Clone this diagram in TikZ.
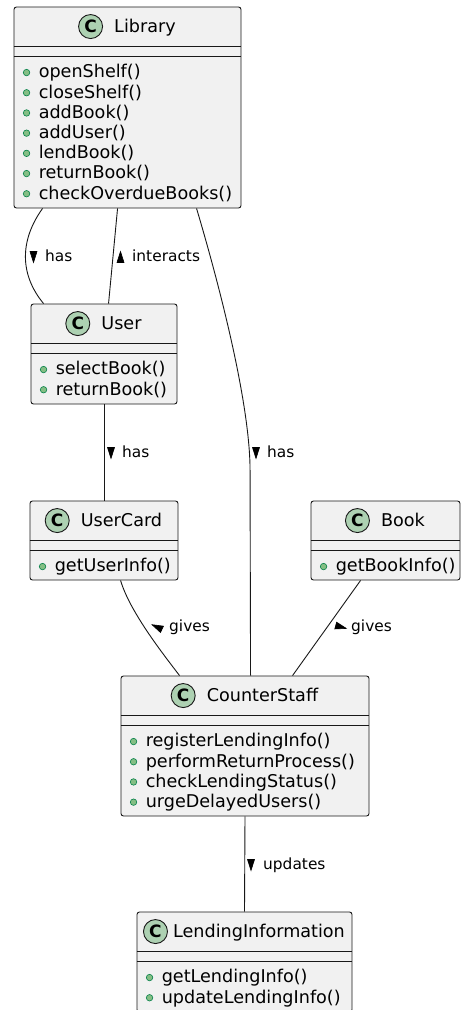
\documentclass[tikz,border=0pt]{standalone}
\usepackage{fontspec}
\setmainfont{DejaVu Sans}
\usepackage{tikz}
\usetikzlibrary{shapes.geometric, positioning, calc}
\definecolor{classfill}{HTML}{F1F1F1}
\definecolor{classline}{HTML}{181818}
\definecolor{iconfill}{HTML}{ADD1B2}
\definecolor{dotfill}{HTML}{84BE84}
\definecolor{dotline}{HTML}{038048}
\tikzset{classbox/.style={rectangle,draw=classline,fill=classfill,rounded corners=2.5pt,line width=0.9pt,inner sep=0pt},
         classtitle/.style={inner sep=0pt,font=\fontsize{17.6}{20}\selectfont,text height=12.8pt,text depth=0pt},
         classicon/.style={circle,draw=classline,fill=iconfill,line width=0.9pt,minimum size=24pt,inner sep=0pt,font=\fontsize{17}{17}\selectfont\bfseries},
         classrule/.style={draw=classline,line width=0.9pt},
         member/.style={anchor=west,inner sep=0pt,font=\fontsize{17.6}{20}\selectfont,text height=12.8pt,text depth=0pt},
         memberdot/.style={circle,draw=dotline,fill=dotfill,line width=0.6pt,minimum size=6.5pt,inner sep=0pt},
         link/.style={draw=classline,line width=0.9pt},
         linklabel/.style={anchor=west,inner sep=0pt,font=\fontsize{15.4}{18}\selectfont,text height=11.2pt,text depth=0pt},
         labeltip/.style={fill=black,draw=black,line width=0.6pt,line join=miter}}
% one class box: [gap] name, centre, width, height, title, members
\newcommand{\umlclass}[7][11]{%
  \node (#2) [classbox, minimum width=#4, minimum height=#5] at (#3) {};
  \node (#2-title) [classtitle] at ($(#2.north)+({(24+#1)/2},20)$) {#6};
  \node (#2-icon) [classicon, left=#1pt of #2-title] {C};
  \draw[classrule] ($(#2.north west)+(0,40)$) -- ($(#2.north east)+(0,40)$);
  \draw[classrule] ($(#2.north west)+(0,50)$) -- ($(#2.north east)+(0,50)$);
  \foreach \m [count=\i] in {#7} {
    \node (#2-dot\i) [memberdot] at ($(#2.north west)+(13,{66+20.2*(\i-1)})$) {};
    \node (#2-m\i) [member] at ($(#2.north west)+(25,{65+20.2*(\i-1)})$) {\m};
  }}

\begin{document}
\begin{tikzpicture}[x=1pt,y=-1pt]
    \useasboundingbox (0,0) rectangle (461,1010);
    \umlclass{library}{127.5,107.5}{227pt}{201pt}{Library}{openShelf(),closeShelf(),addBook(),addUser(),lendBook(),returnBook(),checkOverdueBooks()}
    \umlclass{user}{104,354}{146pt}{100pt}{User}{selectBook(),returnBook()}
    \umlclass{usercard}{104,540.5}{148pt}{79pt}{UserCard}{getUserInfo()}
    \umlclass{book}{385.5,540.5}{149pt}{79pt}{Book}{getBookInfo()}
    \umlclass{counterstaff}{245,746}{248pt}{140pt}{CounterStaff}{registerLendingInfo(),performReturnProcess(),checkLendingStatus(),urgeDelayedUsers()}
    \umlclass[5]{lendinginfo}{244.5,962}{215pt}{100pt}{LendingInformation}{getLendingInfo(),updateLendingInfo()}
    % associations
    \draw[link] ($(library.south west)+(29,0)$) .. controls +(-23,32) and +(-24,-29) .. ($(user.north west)+(13,0)$);
    \draw[link] ($(library.south west)+(104,0)$) -- ($(user.north west)+(78,0)$);
    \draw[link] ($(library.south west)+(183,0)$) .. controls +(20,67) and +(0,-70) .. ++(53.5,262) -- ($(counterstaff.north west)+(130,0)$);
    \draw[link] (user.south) -- (usercard.north);
    \draw[link] ($(usercard.south west)+(91,0)$) .. controls +(9,30) and +(-20,-26) .. ($(counterstaff.north west)+(59,0)$);
    \draw[link] ($(book.south west)+(50,0)$) -- ($(counterstaff.north west)+(172,0)$);
    \draw[link] (counterstaff.south) -- (lendinginfo.north);
    % labels with their direction tips
    \coordinate (has1-tip) at (33.5,257);
    \filldraw[labeltip, shift={(has1-tip)}, rotate=-90] (5.5,0) -- (-5.5,3.5) -- (-5.5,-3.5) -- cycle;
    \node (has1) [linklabel] at (45,256) {has};
    \coordinate (interacts-tip) at (120.5,257);
    \filldraw[labeltip, shift={(interacts-tip)}, rotate=90] (5.5,0) -- (-5.5,3.5) -- (-5.5,-3.5) -- cycle;
    \node (interacts) [linklabel] at (132,256) {interacts};
    \coordinate (has2-tip) at (111,453);
    \filldraw[labeltip, shift={(has2-tip)}, rotate=-90] (5.5,0) -- (-5.5,3.5) -- (-5.5,-3.5) -- cycle;
    \node (has2) [linklabel] at (122,452) {has};
    \coordinate (has3-tip) at (256,453);
    \filldraw[labeltip, shift={(has3-tip)}, rotate=-90] (5.5,0) -- (-5.5,3.5) -- (-5.5,-3.5) -- cycle;
    \node (has3) [linklabel] at (267,452) {has};
    \coordinate (gives1-tip) at (157,627);
    \filldraw[labeltip, shift={(gives1-tip)}, rotate=155] (5.5,0) -- (-5.5,3.5) -- (-5.5,-3.5) -- cycle;
    \node (gives1) [linklabel] at (169,626) {gives};
    \coordinate (gives2-tip) at (341,627);
    \filldraw[labeltip, shift={(gives2-tip)}, rotate=-15] (5.5,0) -- (-5.5,3.5) -- (-5.5,-3.5) -- cycle;
    \node (gives2) [linklabel] at (351,626) {gives};
    \coordinate (updates-tip) at (251,865);
    \filldraw[labeltip, shift={(updates-tip)}, rotate=-90] (5.5,0) -- (-5.5,3.5) -- (-5.5,-3.5) -- cycle;
    \node (updates) [linklabel] at (263,864) {updates};
  \end{tikzpicture}
\end{document}
